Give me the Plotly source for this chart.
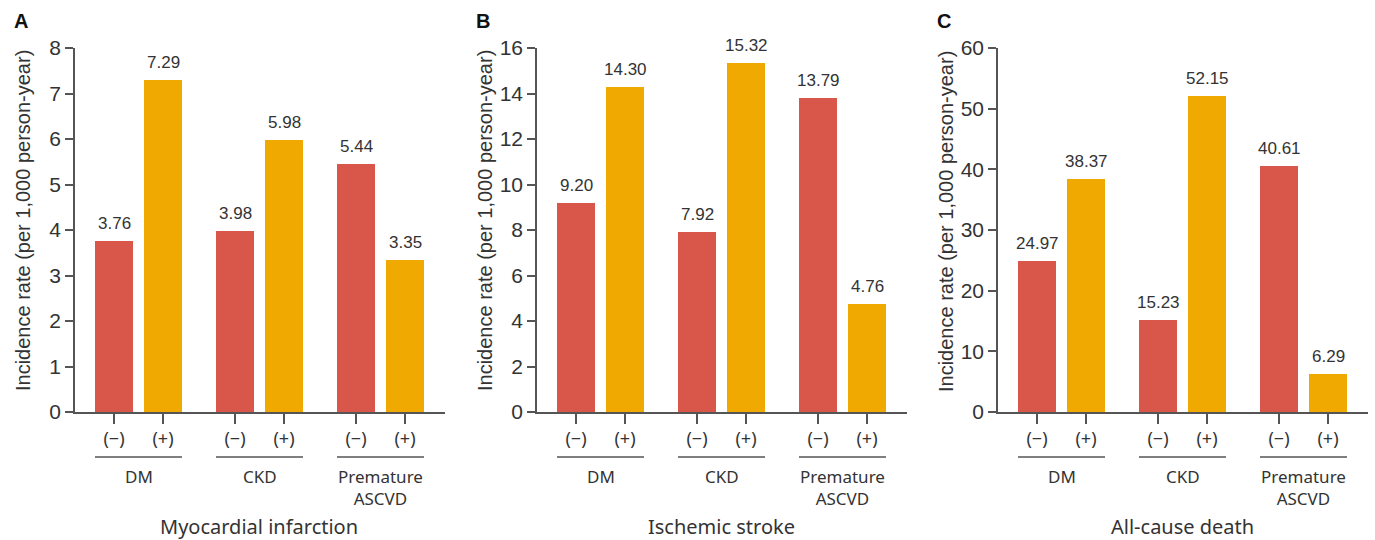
import plotly.graph_objects as go

# ---- data ----
panels = ["A", "B", "C"]
outcomes = ["Myocardial infarction", "Ischemic stroke", "All-cause death"]
groups = ["DM", "CKD", "Premature<br>ASCVD"]
status_labels = ["(\u2212)", "(+)"]
mi_neg = [3.76, 3.98, 5.44]
mi_pos = [7.29, 5.98, 3.35]
stroke_neg = [9.20, 7.92, 13.79]
stroke_pos = [14.30, 15.32, 4.76]
death_neg = [24.97, 15.23, 40.61]
death_pos = [38.37, 52.15, 6.29]
y_max = [8, 16, 60]
y_dtick = [1, 2, 10]
ytitle = "Incidence rate (per 1,000 person-year)"

neg_data = [mi_neg, stroke_neg, death_neg]
pos_data = [mi_pos, stroke_pos, death_pos]

RED = "#D9574A"
GOLD = "#F0A900"
TXT = "#333333"
W, H = 1375, 540

# layout geometry (pixels)
axis_left_px = [75, 537, 998]
axis_len_px = 370
y_top_px, y_zero_px = 48, 412
unit = 49.0  # px between (-) and (+) bar centres
group_step = 121.0 / unit
first_offset = 39.0 / unit
bar_w = 38.0 / unit

fig = go.Figure()
for i in range(3):
    xa = "x" if i == 0 else f"x{i+1}"
    ya = "y" if i == 0 else f"y{i+1}"
    neg_x = [g * group_step for g in range(3)]
    pos_x = [g * group_step + 1 for g in range(3)]
    fig.add_trace(go.Bar(x=neg_x, y=neg_data[i], width=bar_w, marker_color=RED,
                         marker_line_width=0, xaxis=xa, yaxis=ya, showlegend=False))
    fig.add_trace(go.Bar(x=pos_x, y=pos_data[i], width=bar_w, marker_color=GOLD,
                         marker_line_width=0, xaxis=xa, yaxis=ya, showlegend=False))
    for xs, vs in ((neg_x, neg_data[i]), (pos_x, pos_data[i])):
        for xv, v in zip(xs, vs):
            fig.add_annotation(x=xv, y=v, xref=xa, yref=ya, text=f"{v:.2f}",
                               showarrow=False, xanchor="center", yanchor="bottom", yshift=6,
                               font=dict(family="Liberation Sans, Arial", size=17, color=TXT))

    x0 = axis_left_px[i] / W
    x1 = (axis_left_px[i] + axis_len_px) / W
    xmin = -first_offset
    xmax = xmin + axis_len_px / unit
    tickvals = sorted(neg_x + pos_x)
    ticktext = [status_labels[k % 2] for k in range(6)]
    fig.update_layout({
        ("xaxis" if i == 0 else f"xaxis{i+1}"): dict(
            domain=[x0, x1], range=[xmin, xmax], anchor=ya, automargin=False,
            showline=True, linecolor="#555555", linewidth=1.5,
            ticks="outside", ticklen=10, tickcolor="#555555", tickwidth=1.5,
            tickvals=tickvals, ticktext=ticktext, showgrid=False, zeroline=False,
            tickfont=dict(family="Noto Sans", size=18, color=TXT), fixedrange=True),
        ("yaxis" if i == 0 else f"yaxis{i+1}"): dict(
            domain=[(H - y_zero_px) / H, (H - y_top_px) / H], automargin=False,
            range=[0, y_max[i]], dtick=y_dtick[i], anchor=xa,
            showline=True, linecolor="#555555", linewidth=1.5,
            ticks="outside", ticklen=8, tickcolor="#555555", tickwidth=1.5,
            showgrid=False, zeroline=False, fixedrange=True,
            tickfont=dict(family="Liberation Sans, Arial", size=21, color=TXT)),
    })
    # panel letter
    fig.add_annotation(x=(axis_left_px[i] - 54) / W, y=(H - 21) / H, xref="paper", yref="paper",
                       text=f"<b>{panels[i]}</b>", showarrow=False,
                       xanchor="center", yanchor="middle",
                       font=dict(family="Liberation Sans, Arial", size=20, color="#111111"))
    # y title
    fig.add_annotation(x=(axis_left_px[i] - 52) / W, y=(H - 221) / H, xref="paper", yref="paper",
                       text=ytitle, textangle=-90, showarrow=False,
                       xanchor="center", yanchor="middle",
                       font=dict(family="Liberation Sans, Arial", size=20, color=TXT))
    # group lines & labels
    for g in range(3):
        lx0 = neg_x[g] - bar_w / 2
        lx1 = pos_x[g] + bar_w / 2
        fig.add_shape(type="line", xref=xa, yref="paper", x0=lx0, x1=lx1,
                      y0=(H - 457) / H, y1=(H - 457) / H,
                      line=dict(color="#555555", width=1.5))
        fig.add_annotation(x=(neg_x[g] + pos_x[g]) / 2, y=(H - 463) / H, xref=xa, yref="paper",
                           text=groups[g], showarrow=False, xanchor="center", yanchor="top",
                           font=dict(family="Noto Sans", size=17, color=TXT))
    # outcome title
    fig.add_annotation(x=(axis_left_px[i] + 184) / W, y=(H - 526) / H, xref="paper", yref="paper",
                       text=outcomes[i], showarrow=False, xanchor="center", yanchor="middle",
                       font=dict(family="Noto Sans", size=20, color=TXT))

fig.update_layout(width=W, height=H, margin=dict(l=0, r=0, t=0, b=0),
                  paper_bgcolor="white", plot_bgcolor="white", bargap=0)
fig.write_html("out.html", config={"displayModeBar": False},
               post_script="document.body.style.margin='0';document.body.style.overflow='hidden';")
